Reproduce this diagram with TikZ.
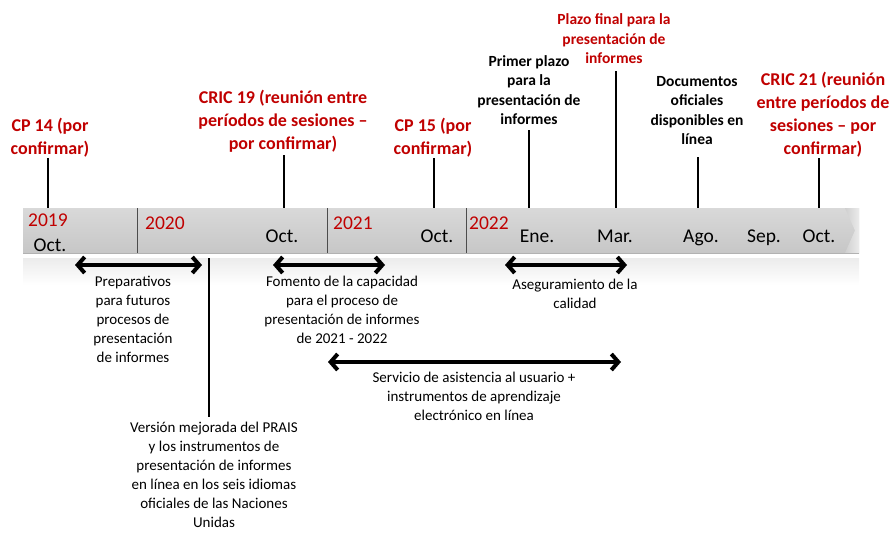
\documentclass[tikz,border=0pt]{standalone}
\usepackage{fontspec}
\setmainfont{Carlito}
\usetikzlibrary{arrows.meta,positioning}
\definecolor{cricred}{HTML}{C00000}

\begin{document}
\begin{tikzpicture}[x=1pt,y=-1pt,
  evtbig/.style={align=center,text=cricred,font=\fontsize{18}{23}\selectfont\bfseries,inner sep=0pt},
  evtred/.style={align=center,text=cricred,font=\fontsize{15.5}{19.5}\selectfont\bfseries,inner sep=0pt},
  evtblk/.style={align=center,font=\fontsize{15.5}{19.5}\selectfont\bfseries,inner sep=0pt},
  note/.style={align=center,anchor=north,font=\fontsize{15}{19}\selectfont,inner sep=0pt},
  month/.style={anchor=base,font=\fontsize{19.5}{22}\selectfont,inner sep=0pt},
  year/.style={anchor=base west,text=cricred,font=\fontsize{19.5}{22}\selectfont,inner sep=0pt},
  tick/.style={line width=1.4pt},
  span/.style={line width=4pt,{Straight Barb[length=7pt,width=16pt]}-{Straight Barb[length=7pt,width=16pt]}}]
  \useasboundingbox (0,0) rectangle (893,533);
  % Bar
  \shade[top color=gray!15,bottom color=white] (23,258) rectangle (859,285);
  \shade[top color=gray!30,bottom color=gray!44] (23,208) rectangle (859,253);
  \shade[left color=gray!38,right color=gray!16] (845,208) -- (859,208) -- (859,253) -- (845,253) -- (855,230.5) -- cycle;
  \draw[gray!60] (23,253) -- (859,253);
  \foreach \x in {137,327,466} \draw[black!70,line width=0.8pt] (\x,208) -- (\x,253);
  \coordinate (bartop) at (0,208);
  % Years and months
  \node[year] (y2019) at (28,226) {2019};
  \node[year] (y2020) at (145,229) {2020};
  \node[year] (y2021) at (333,229) {2021};
  \node[year] (y2022) at (469,229) {2022};
  \node[month] (m1) at (50,251) {Oct.};
  \node[month] (m2) at (282,242) {Oct.};
  \node[month] (m3) at (437,242) {Oct.};
  \node[month] (m4) at (537,242) {Ene.};
  \node[month] (m5) at (615,242) {Mar.};
  \node[month] (m6) at (701,242) {Ago.};
  \node[month] (m7) at (764,242) {Sep.};
  \node[month] (m8) at (819,242) {Oct.};
  % Events above the bar
  \coordinate (t-cp14) at (48,158);
  \coordinate (t-cric19) at (284,155);
  \coordinate (t-cp15) at (434,158);
  \coordinate (t-first) at (529,130);
  \coordinate (t-final) at (616,71);
  \coordinate (t-docs) at (698,157);
  \coordinate (t-cric21) at (819,158);
  \node[evtbig,above=1pt of t-cp14,xshift=2pt] (cp14) {CP 14 (por\\confirmar)};
  \node[evtbig,above=2pt of t-cric19,xshift=-1pt] (cric19) {CRIC 19 (reunión entre\\períodos de sesiones --\\por confirmar)};
  \node[evtbig,above=1pt of t-cp15,xshift=-1pt] (cp15) {CP 15 (por\\confirmar)};
  \node[evtblk,above=5pt of t-first] (first) {Primer plazo\\para la\\presentación de\\informes};
  \node[evtred,above=7pt of t-final,xshift=-2pt] (final) {Plazo final para la\\presentación de\\informes};
  \node[evtblk,above=12pt of t-docs,xshift=-1pt] (docs) {Documentos\\oficiales\\disponibles en\\línea};
  \node[evtbig,above=1pt of t-cric21,xshift=4pt] (cric21) {CRIC 21 (reunión\\entre períodos de\\sesiones -- por\\confirmar)};
  \foreach \t in {t-cp14,t-cric19,t-cp15,t-first,t-final,t-docs,t-cric21}
    \draw[tick] (\t) -- (\t |- bartop);
  % Spans below the bar
  \coordinate (prep-l) at (75,265);
  \coordinate (prep-r) at (202,265);
  \coordinate (cap-l) at (273,265);
  \coordinate (cap-r) at (385,265);
  \coordinate (qa-l) at (505,265);
  \coordinate (qa-r) at (627,265);
  \coordinate (help-l) at (328,362);
  \coordinate (help-r) at (621,362);
  \draw[span] (prep-l) -- (prep-r);
  \draw[span] (cap-l) -- (cap-r);
  \draw[span] (qa-l) -- (qa-r);
  \draw[span] (help-l) -- (help-r);
  \node[note] (prep) at (133,276) {Preparativos\\para futuros\\procesos de\\presentación\\de informes};
  \node[note] (cap) at (342,276) {Fomento de la capacidad\\para el proceso de\\presentación de informes\\de 2021 - 2022};
  \node[note] (qa) at (575,279) {Aseguramiento de la\\calidad};
  \node[note] (help) at (474,372) {Servicio de asistencia al usuario +\\instrumentos de aprendizaje\\electrónico en línea};
  \node[note,inner ysep=5pt] (prais) at (214,417) {Versión mejorada del PRAIS\\y los instrumentos de\\presentación de informes\\en línea en los seis idiomas\\oficiales de las Naciones\\Unidas};
  \coordinate (v-top) at (209,258);
  \draw[tick] (v-top) -- (v-top |- prais.north);
\end{tikzpicture}
\end{document}
